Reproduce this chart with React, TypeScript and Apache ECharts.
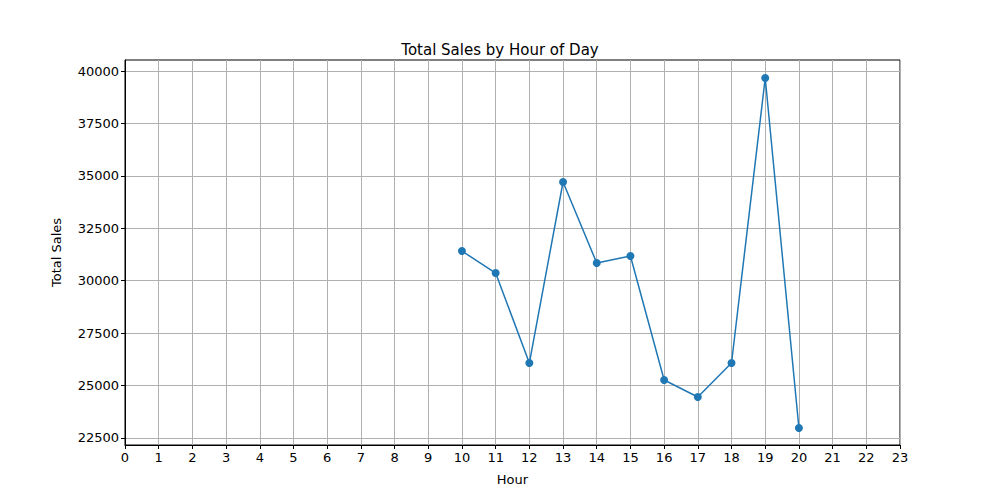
import { useEffect, useRef } from 'react';
import * as echarts from 'echarts';

const hours = [10, 11, 12, 13, 14, 15, 16, 17, 18, 19, 20];
const sales = [31416, 30367, 26075, 34707, 30844, 31178, 25265, 24454, 26075, 39666, 22976];
const yTicks = [22500, 25000, 27500, 30000, 32500, 35000, 37500, 40000];

const FONT = "'DejaVu Sans', sans-serif";

export default function App() {
  const ref = useRef<HTMLDivElement>(null);

  useEffect(() => {
    if (!ref.current) return;
    const chart = echarts.init(ref.current, null, { renderer: 'svg' });
    const gridLine = { color: '#b0b0b0', width: 1 };
    chart.setOption({
      animation: false,
      backgroundColor: '#fff',
      title: {
        text: 'Total Sales by Hour of Day',
        left: 'center',
        top: 37,
        textStyle: { fontFamily: FONT, fontSize: 15, fontWeight: 'normal', color: '#000' },
      },
      grid: {
        left: 125, right: 100, top: 60, bottom: 55,
        show: true, borderColor: '#000', borderWidth: 1,
      },
      xAxis: {
        type: 'value', min: 0, max: 23, interval: 1,
        name: 'Hour', nameLocation: 'middle', nameGap: 28,
        nameTextStyle: { fontFamily: FONT, fontSize: 13, color: '#000' },
        axisLine: { lineStyle: { color: '#000' } },
        axisTick: { inside: false, length: 4, lineStyle: { color: '#000' } },
        axisLabel: { fontFamily: FONT, fontSize: 13, color: '#000', margin: 6 },
        splitLine: { show: true, lineStyle: gridLine },
      },
      yAxis: {
        type: 'value', min: 22166, max: 40525,
        name: 'Total Sales', nameLocation: 'middle', nameGap: 62,
        nameTextStyle: { fontFamily: FONT, fontSize: 13, color: '#000' },
        axisLine: { show: true, lineStyle: { color: '#000' } },
        axisTick: { show: true, length: 4, customValues: yTicks, lineStyle: { color: '#000' } },
        axisLabel: {
          fontFamily: FONT, fontSize: 13, color: '#000', margin: 6,
          customValues: yTicks,
          formatter: (v: number) => String(v),
        },
        splitLine: { show: false },
      },
      series: [
        {
          type: 'line',
          data: hours.map((h, i) => [h, sales[i]]),
          symbol: 'circle',
          symbolSize: 8,
          itemStyle: { color: '#1f77b4' },
          lineStyle: { color: '#1f77b4', width: 1.5 },
          markLine: {
            silent: true,
            symbol: 'none',
            label: { show: false },
            lineStyle: { ...gridLine, type: 'solid' },
            data: yTicks.map((v) => ({ yAxis: v })),
            z: 0,
          },
        },
      ],
    });
    return () => chart.dispose();
  }, []);

  return <div ref={ref} style={{ width: 1000, height: 500, margin: -8 }} />;
}
